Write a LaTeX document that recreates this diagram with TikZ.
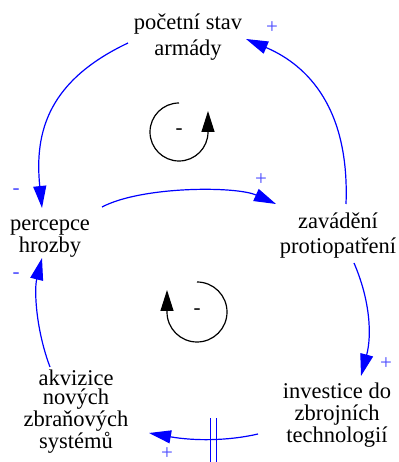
\documentclass[tikz,border=0pt]{standalone}
\usepackage{fontspec}
\setmainfont{Liberation Serif}
\newfontfamily\varfont{Liberation Serif}
\usetikzlibrary{arrows.meta}
\definecolor{linkblue}{RGB}{0,0,255}
\definecolor{signblue}{RGB}{70,70,255}
\begin{document}
\begin{tikzpicture}[x=1pt,y=1pt,
  var/.style={align=center, inner sep=0pt},
  link/.style={draw=linkblue, line width=1.2pt, -{Triangle[length=22pt,width=13pt]}},
  delaymark/.style={draw=linkblue, line width=1.2pt},
  sign/.style={text=signblue, font=\varfont\fontsize{21}{21}\selectfont, inner sep=0pt},
  loopsign/.style={text=black, font=\varfont\fontsize{21}{21}\selectfont, inner sep=0pt},
  loopline/.style={draw=black, line width=1.2pt, -{Triangle[length=21pt,width=13pt]}}]
\useasboundingbox (0,0) rectangle (398,462);
% variables
\node[var, font=\varfont\fontsize{22.5}{26}\selectfont] (T) at (188,425) {početní stav\\armády};
\node[var, font=\varfont\fontsize{22.5}{22}\selectfont] (P) at (50,223.7) {percepce\\hrozby};
\node[var, font=\varfont\fontsize{22.5}{25}\selectfont] (Z) at (338,226.8) {zavádění\\protiopatření};
\node[var, font=\varfont\fontsize{22.5}{22}\selectfont] (I) at (337,47) {investice do\\zbrojních\\technologií};
\node[var, font=\varfont\fontsize{22.5}{19.5}\selectfont] (A) at (76,50.5) {akvizice\\nových\\zbraňových\\systémů};
% connectors
\draw[link] ([shift={(-60,-6)}]T.center) .. controls (50,382) and (34,332) .. ([shift={(-8,30.3)}]P.center);
\draw[link] ([shift={(8,31.2)}]Z.center) .. controls (350,362) and (300,400) .. ([shift={(58,-2)}]T.center);
\draw[link] ([shift={(52,31.3)}]P.center) .. controls (142,276) and (236,276) .. ([shift={(-62,31.2)}]Z.center);
\draw[link] ([shift={(16,-27.8)}]Z.center) .. controls (370,162) and (372,127) .. ([shift={(24,39)}]I.center);
\draw[link] ([shift={(-26,44.5)}]A.center) .. controls (36,132) and (34,172) .. ([shift={(-8,-19.7)}]P.center);
\draw[link] ([shift={(-79,-19)}]I.center) .. controls (228,21) and (194,21) .. ([shift={(73,-21.5)}]A.center) coordinate[pos=0.46] (dm);
\draw[delaymark] ([xshift=-3pt]dm) ++(0,21) -- ++(0,-44);
\draw[delaymark] ([xshift=3pt]dm) ++(0,21) -- ++(0,-44);
% polarities
\node[sign] (s1) at (272,434) {+};
\node[sign] (s2) at (16,270) {-};
\node[sign] (s3) at (261,282) {+};
\node[sign] (s4) at (386,98) {+};
\node[sign] (s5) at (167,8) {+};
\node[sign] (s6) at (16,186) {-};
% loop identifiers
\node[loopsign] (L1) at (179,330) {-};
\node[loopsign] (L2) at (197,150) {-};
\draw[loopline] ([yshift=29pt]L1.center) arc[start angle=90, end angle=360, radius=29] -- ++(0,21);
\draw[loopline] ([yshift=30pt]L2.center) arc[start angle=90, end angle=-180, radius=30] -- ++(0,22);
\end{tikzpicture}
\end{document}
